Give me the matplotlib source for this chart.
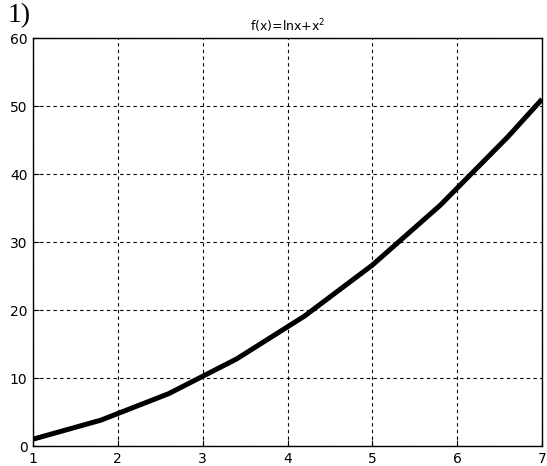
import matplotlib.pyplot as plt

# values
x_vals = [1.0, 1.8, 2.6, 3.4, 4.2, 5.0, 5.8, 6.6, 7.0]
y_vals = [1.0, 3.8, 7.7, 12.8, 19.1, 26.6, 35.4, 45.5, 51.0]
x_ticks = [1, 2, 3, 4, 5, 6, 7]
y_ticks = [0, 10, 20, 30, 40, 50, 60]

plt.rcParams['font.family'] = ['DejaVu Sans']

W, H = 547, 466
fig = plt.figure(figsize=(W / 100, H / 100), dpi=100)
# right edge pulled in a few px so the "7" label stays inside the picture
ax = fig.add_axes([33 / W, 1 - 446 / H, 509 / W, 408 / H])

ax.plot(x_vals, y_vals, color='black', linewidth=3.6, solid_capstyle='butt')

ax.set_xlim(1, 7)
ax.set_ylim(0, 60)
ax.set_xticks(x_ticks)
ax.set_yticks(y_ticks)
ax.tick_params(direction='in', length=4, labelsize=10, colors='black', pad=4)
ax.grid(True, color='black', linestyle=(0, (3, 3)), linewidth=0.8)
for s in ax.spines.values():
    s.set_linewidth(1.0)

ax.set_title(r'f(x)=lnx+x$^2$', fontsize=9, pad=5)

# label in the top-left corner (cut off in the reference, kept whole here)
fig.text(8 / W, 1 - 22 / H, '1)', fontsize=20, family='Liberation Serif',
         va='baseline', ha='left')

fig.savefig('out.png', dpi=100)
